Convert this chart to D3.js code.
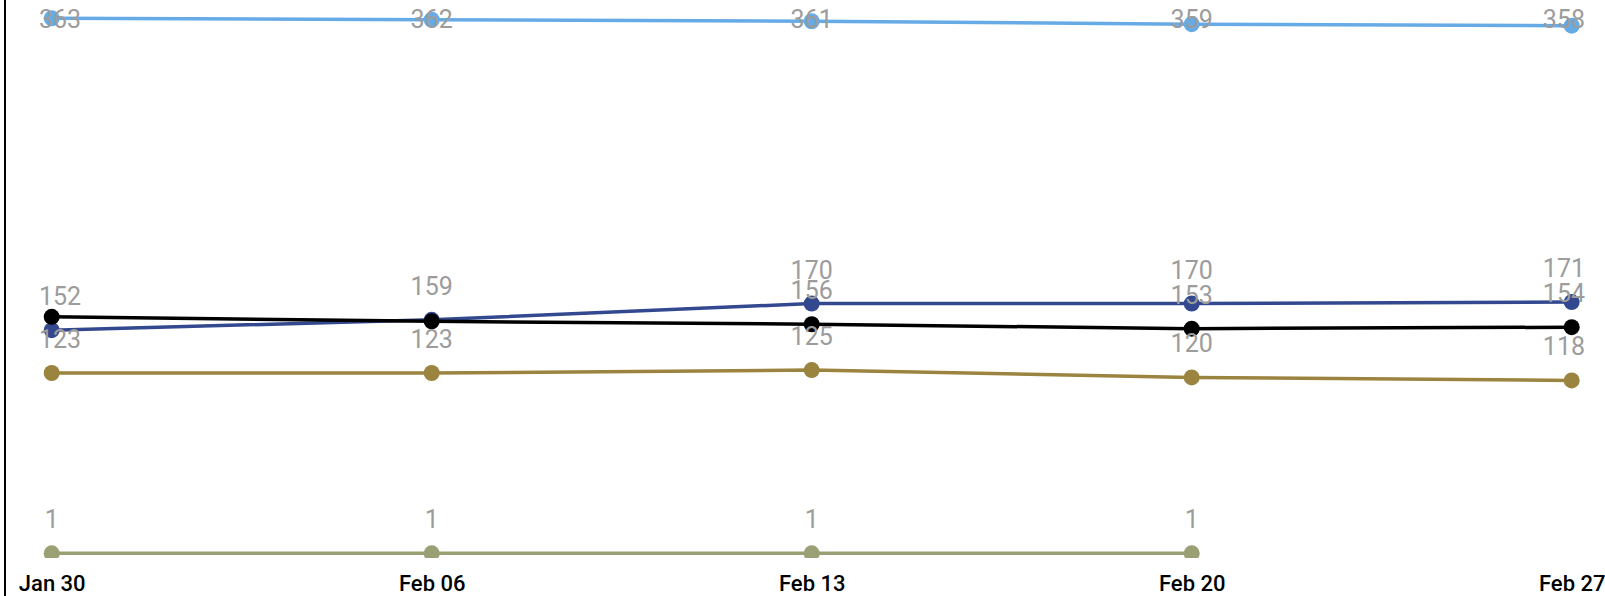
<!DOCTYPE html>
<html>
<head>
<meta charset="utf-8">
<script src="https://cdn.jsdelivr.net/npm/d3@7/dist/d3.min.js"></script>
<style>
  html, body { margin: 0; padding: 0; background: #fff; }
  svg { display: block; }
</style>
</head>
<body>
<svg id="chart" width="1605" height="596"></svg>
<script>
// ---- data ----
const dates = ["Jan 30", "Feb 06", "Feb 13", "Feb 20", "Feb 27"];
const lightBlueValues = [363, 362, 361, 359, 358];
const darkBlueValues = [152, 159, 170, 170, 171];
const blackValues = [161, 158, 156, 153, 154];
const goldValues = [123, 123, 125, 120, 118];
const greenValues = [1, 1, 1, 1, null];

const seriesNames = ["lightBlue", "darkBlue", "black", "gold", "green"];
const seriesColors = ["#66aae6", "#33498f", "#000000", "#9b8340", "#9a9f74"];
const seriesData = [lightBlueValues, darkBlueValues, blackValues, goldValues, greenValues];
// drawing order (later = on top) and label priority order
const drawOrder = ["lightBlue", "darkBlue", "black", "gold", "green"];
const labelPriority = ["lightBlue", "darkBlue", "gold", "green", "black"];

const series = seriesNames.map((n, i) => ({
  name: n, color: seriesColors[i],
  values: seriesData[i].map((v, j) => ({ date: dates[j], value: v }))
}));
const byName = Object.fromEntries(series.map(s => [s.name, s]));

// ---- layout ----
const W = 1605, H = 596;
const svg = d3.select("#chart");

const x = d3.scalePoint().domain(dates).range([51.7, 1571.7]);
const y = d3.scaleLinear().domain([0, 363]).range([554.8, 18.3]);

// clip for plot area
svg.append("defs").append("clipPath").attr("id", "plotClip")
  .append("rect").attr("x", 6).attr("y", 0).attr("width", W - 6).attr("height", 558);

const plot = svg.append("g").attr("clip-path", "url(#plotClip)");

const line = d3.line()
  .defined(d => d.value != null)
  .x(d => x(d.date)).y(d => y(d.value));

drawOrder.forEach(n => {
  const s = byName[n];
  const g = plot.append("g");
  g.append("path").datum(s.values)
    .attr("d", line).attr("fill", "none")
    .attr("stroke", s.color).attr("stroke-width", 3.5)
    .attr("stroke-linejoin", "round");
  g.selectAll("circle").data(s.values.filter(d => d.value != null))
    .join("circle")
    .attr("cx", d => x(d.date)).attr("cy", d => y(d.value))
    .attr("r", 8).attr("fill", s.color);
});

// left axis line
svg.append("line").attr("x1", 5).attr("x2", 5).attr("y1", 0).attr("y2", H)
  .attr("stroke", "#000").attr("stroke-width", 2);

// x axis labels
const xAxis = d3.axisBottom(x).tickSize(0).tickPadding(0);
const xg = svg.append("g").attr("transform", "translate(0,571)").call(xAxis);
xg.select(".domain").remove();
xg.selectAll("text")
  .attr("font-family", "Roboto, 'DejaVu Sans', sans-serif")
  .attr("font-size", 22).attr("font-weight", 500)
  .attr("fill", "#000").attr("dy", 20);

// data labels with collision avoidance
const labelLayer = svg.append("g");
const placed = [];
const CAP = 18;
labelPriority.forEach(n => {
  const s = byName[n];
  s.values.forEach(d => {
    if (d.value == null) return;
    const px = x(d.date), py = y(d.value);
    let base = py - 25;
    if (base - CAP < 10) base = 10 + CAP;
    const t = labelLayer.append("text")
      .attr("font-family", "Roboto, 'DejaVu Sans', sans-serif")
      .attr("font-size", 25)
      .attr("fill", "#9c9c9c")
      .attr("text-anchor", "middle")
      .attr("x", px).attr("y", base)
      .text(d3.format("d")(d.value));
    const w = t.node().getComputedTextLength();
    let cx = px;
    if (cx - w / 2 < 39) cx = 39 + w / 2;
    if (cx + w / 2 > 1585) cx = 1585 - w / 2;
    t.attr("x", cx);
    const box = { x0: cx - w / 2, x1: cx + w / 2, y0: base - CAP, y1: base };
    const hit = placed.some(b => box.x0 < b.x1 && box.x1 > b.x0 && box.y0 < b.y1 && box.y1 > b.y0);
    if (hit) { t.remove(); return; }
    placed.push(box);
  });
});
</script>
</body>
</html>
